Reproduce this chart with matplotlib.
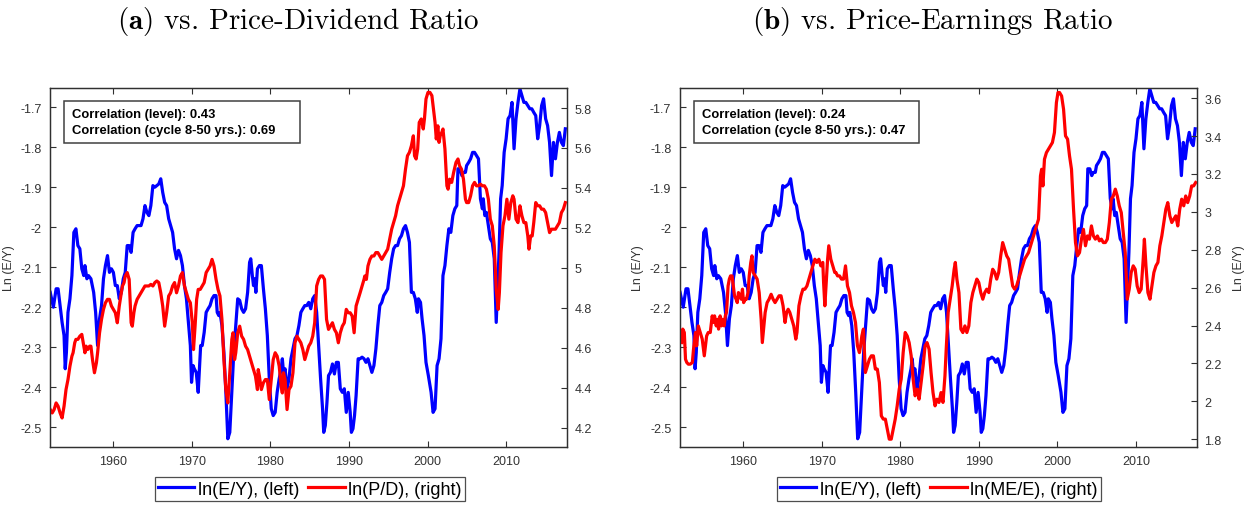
import matplotlib
matplotlib.use("Agg")
import matplotlib.pyplot as plt
from matplotlib.patches import Rectangle

plt.rcParams['font.family'] = ['Liberation Sans', 'DejaVu Sans']
plt.rcParams['mathtext.fontset'] = 'cm'

# ln(E/Y), same series in both panels
ey_years = [1951.96, 1952.36, 1952.71, 1952.96, 1953.22, 1953.47, 1953.72, 1953.87, 1954.02, 1954.22,
            1954.47, 1954.72, 1954.97, 1955.23, 1955.48, 1955.73, 1955.98, 1956.23, 1956.38, 1956.63,
            1956.83, 1957.14, 1957.49, 1957.74, 1957.99, 1958.24, 1958.49, 1958.74, 1958.99, 1959.25,
            1959.50, 1959.75, 1960.00, 1960.25, 1960.50, 1960.75, 1961.01, 1961.26, 1961.51, 1961.76,
            1962.01, 1962.26, 1962.51, 1962.76, 1963.02, 1963.27, 1963.52, 1963.77, 1964.02, 1964.27,
            1964.52, 1964.77, 1965.03, 1965.28, 1965.53, 1965.78, 1966.03, 1966.28, 1966.53, 1966.78,
            1967.04, 1967.29, 1967.54, 1967.79, 1968.04, 1968.29, 1968.54, 1968.79, 1969.05, 1969.30,
            1969.55, 1969.80, 1969.95, 1970.15, 1970.30, 1970.55, 1970.80, 1970.95, 1971.11, 1971.31,
            1971.56, 1971.81, 1972.06, 1972.31, 1972.56, 1972.81, 1973.07, 1973.22, 1973.42, 1973.57,
            1973.82, 1974.07, 1974.32, 1974.57, 1974.82, 1975.08, 1975.33, 1975.58, 1975.83, 1976.08,
            1976.33, 1976.58, 1976.83, 1977.09, 1977.34, 1977.49, 1977.69, 1977.84, 1977.99, 1978.14,
            1978.34, 1978.59, 1978.84, 1979.10, 1979.35, 1979.60, 1979.85, 1980.10, 1980.35, 1980.60,
            1980.85, 1981.11, 1981.36, 1981.51, 1981.66, 1981.86, 1982.11, 1982.36, 1982.61, 1982.86,
            1983.12, 1983.37, 1983.62, 1983.87, 1984.12, 1984.37, 1984.62, 1984.87, 1985.13, 1985.38,
            1985.63, 1985.88, 1986.13, 1986.38, 1986.63, 1986.78, 1986.98, 1987.19, 1987.39, 1987.64,
            1987.89, 1988.14, 1988.39, 1988.64, 1988.89, 1989.15, 1989.40, 1989.65, 1989.90, 1990.15,
            1990.30, 1990.50, 1990.70, 1990.90, 1991.16, 1991.41, 1991.66, 1991.91, 1992.16, 1992.41,
            1992.66, 1992.91, 1993.17, 1993.42, 1993.67, 1993.92, 1994.17, 1994.42, 1994.67, 1994.92,
            1995.18, 1995.43, 1995.68, 1995.93, 1996.18, 1996.43, 1996.68, 1996.93, 1997.19, 1997.44,
            1997.69, 1997.94, 1998.19, 1998.44, 1998.69, 1998.84, 1999.10, 1999.30, 1999.55, 1999.80,
            2000.10, 2000.45, 2000.70, 2000.95, 2001.21, 2001.46, 2001.71, 2001.96, 2002.21, 2002.46,
            2002.71, 2002.96, 2003.22, 2003.47, 2003.72, 2003.87, 2004.12, 2004.37, 2004.57, 2004.82,
            2004.97, 2005.23, 2005.48, 2005.73, 2005.98, 2006.23, 2006.48, 2006.73, 2006.98, 2007.09,
            2007.29, 2007.49, 2007.74, 2007.99, 2008.24, 2008.49, 2008.74, 2008.89, 2009.10, 2009.30,
            2009.50, 2009.75, 2010.00, 2010.25, 2010.50, 2010.75, 2011.01, 2011.26, 2011.51, 2011.76,
            2012.01, 2012.26, 2012.51, 2012.76, 2013.02, 2013.27, 2013.52, 2013.77, 2014.02, 2014.27,
            2014.52, 2014.77, 2015.03, 2015.28, 2015.53, 2015.78, 2016.03, 2016.28, 2016.53, 2016.78,
            2017.04, 2017.29, 2017.54]
ey_values = [-2.163, -2.200, -2.154, -2.154, -2.196, -2.238, -2.271, -2.354, -2.313, -2.213,
             -2.179, -2.121, -2.013, -2.004, -2.046, -2.054, -2.104, -2.121, -2.096, -2.129,
             -2.121, -2.129, -2.163, -2.213, -2.296, -2.229, -2.196, -2.129, -2.096, -2.071,
             -2.113, -2.104, -2.113, -2.146, -2.146, -2.179, -2.163, -2.129, -2.113, -2.046,
             -2.046, -2.063, -2.013, -2.004, -1.996, -1.996, -1.996, -1.979, -1.946, -1.963,
             -1.971, -1.946, -1.896, -1.900, -1.896, -1.892, -1.879, -1.913, -1.938, -1.946,
             -1.979, -1.996, -2.013, -2.054, -2.079, -2.058, -2.071, -2.096, -2.146, -2.179,
             -2.238, -2.296, -2.388, -2.346, -2.354, -2.363, -2.413, -2.354, -2.296, -2.296,
             -2.263, -2.213, -2.204, -2.196, -2.179, -2.171, -2.171, -2.213, -2.221, -2.213,
             -2.246, -2.313, -2.413, -2.529, -2.513, -2.413, -2.313, -2.246, -2.179, -2.183,
             -2.204, -2.213, -2.204, -2.163, -2.088, -2.079, -2.121, -2.146, -2.129, -2.163,
             -2.104, -2.096, -2.096, -2.154, -2.204, -2.271, -2.379, -2.454, -2.471, -2.463,
             -2.413, -2.379, -2.354, -2.329, -2.363, -2.354, -2.404, -2.379, -2.329, -2.304,
             -2.279, -2.271, -2.246, -2.213, -2.204, -2.196, -2.196, -2.188, -2.204, -2.179,
             -2.171, -2.213, -2.296, -2.379, -2.454, -2.513, -2.496, -2.438, -2.371, -2.363,
             -2.342, -2.367, -2.338, -2.338, -2.404, -2.413, -2.404, -2.463, -2.413, -2.463,
             -2.513, -2.504, -2.471, -2.421, -2.329, -2.329, -2.325, -2.329, -2.338, -2.329,
             -2.346, -2.363, -2.346, -2.304, -2.246, -2.196, -2.188, -2.171, -2.163, -2.154,
             -2.113, -2.079, -2.054, -2.046, -2.046, -2.029, -2.021, -2.004, -1.996, -2.013,
             -2.038, -2.163, -2.163, -2.179, -2.213, -2.179, -2.188, -2.229, -2.271, -2.338,
             -2.371, -2.413, -2.463, -2.454, -2.346, -2.329, -2.279, -2.121, -2.096, -2.046,
             -2.004, -2.013, -1.971, -1.954, -1.946, -1.854, -1.854, -1.871, -1.863, -1.863,
             -1.846, -1.838, -1.829, -1.813, -1.813, -1.821, -1.829, -1.929, -1.954, -1.929,
             -1.971, -1.963, -1.996, -2.029, -2.038, -2.079, -2.238, -2.163, -2.063, -1.929,
             -1.896, -1.813, -1.779, -1.729, -1.721, -1.688, -1.804, -1.729, -1.688, -1.654,
             -1.671, -1.688, -1.688, -1.696, -1.704, -1.704, -1.713, -1.721, -1.779, -1.746,
             -1.696, -1.679, -1.729, -1.746, -1.788, -1.871, -1.788, -1.829, -1.788, -1.763,
             -1.788, -1.796, -1.754]

# ln(P/D), panel (a)
pd_years = [1951.96, 1952.21, 1952.46, 1952.71, 1952.96, 1953.22, 1953.47, 1953.72, 1953.97, 1954.22,
            1954.47, 1954.72, 1954.87, 1955.08, 1955.23, 1955.48, 1955.73, 1955.98, 1956.23, 1956.38,
            1956.53, 1956.73, 1956.98, 1957.14, 1957.34, 1957.59, 1957.84, 1957.99, 1958.24, 1958.49,
            1958.74, 1958.99, 1959.25, 1959.50, 1959.75, 1960.00, 1960.25, 1960.50, 1960.75, 1961.01,
            1961.16, 1961.36, 1961.51, 1961.76, 1962.01, 1962.26, 1962.41, 1962.61, 1962.76, 1963.02,
            1963.27, 1963.52, 1963.77, 1964.02, 1964.27, 1964.52, 1964.77, 1965.03, 1965.28, 1965.53,
            1965.78, 1966.03, 1966.28, 1966.53, 1966.78, 1967.04, 1967.29, 1967.54, 1967.79, 1968.04,
            1968.29, 1968.54, 1968.79, 1969.05, 1969.30, 1969.55, 1969.80, 1970.05, 1970.20, 1970.40,
            1970.60, 1970.80, 1971.06, 1971.31, 1971.56, 1971.81, 1972.06, 1972.31, 1972.56, 1972.81,
            1973.07, 1973.32, 1973.57, 1973.82, 1974.07, 1974.32, 1974.57, 1974.82, 1975.08, 1975.23,
            1975.43, 1975.58, 1975.83, 1976.08, 1976.33, 1976.58, 1976.83, 1977.09, 1977.34, 1977.59,
            1977.84, 1978.09, 1978.34, 1978.44, 1978.59, 1978.84, 1979.10, 1979.35, 1979.60, 1979.85,
            1980.10, 1980.35, 1980.60, 1980.85, 1981.11, 1981.36, 1981.51, 1981.66, 1981.86, 1982.11,
            1982.36, 1982.61, 1982.86, 1983.12, 1983.37, 1983.62, 1983.87, 1984.12, 1984.37, 1984.62,
            1984.87, 1985.13, 1985.38, 1985.63, 1985.88, 1986.13, 1986.38, 1986.63, 1986.88, 1987.14,
            1987.39, 1987.64, 1987.89, 1988.14, 1988.39, 1988.64, 1988.89, 1989.15, 1989.40, 1989.65,
            1989.90, 1990.15, 1990.40, 1990.65, 1990.90, 1991.16, 1991.41, 1991.66, 1991.91, 1992.01,
            1992.21, 1992.41, 1992.66, 1992.91, 1993.17, 1993.42, 1993.67, 1993.92, 1994.17, 1994.42,
            1994.67, 1994.92, 1995.18, 1995.43, 1995.68, 1995.93, 1996.18, 1996.43, 1996.68, 1996.93,
            1997.19, 1997.44, 1997.69, 1997.94, 1998.19, 1998.34, 1998.54, 1998.74, 1998.94, 1999.20,
            1999.45, 1999.60, 1999.80, 2000.05, 2000.30, 2000.55, 2000.75, 2000.95, 2001.11, 2001.31,
            2001.46, 2001.61, 2001.81, 2001.96, 2002.21, 2002.46, 2002.61, 2002.81, 2003.07, 2003.32,
            2003.62, 2003.87, 2004.07, 2004.32, 2004.57, 2004.82, 2004.97, 2005.23, 2005.48, 2005.73,
            2005.98, 2006.23, 2006.48, 2006.73, 2006.98, 2007.24, 2007.49, 2007.74, 2007.99, 2008.24,
            2008.49, 2008.74, 2008.99, 2009.14, 2009.35, 2009.60, 2009.85, 2010.10, 2010.35, 2010.60,
            2010.85, 2011.01, 2011.26, 2011.51, 2011.76, 2012.01, 2012.26, 2012.51, 2012.76, 2012.91,
            2013.12, 2013.32, 2013.52, 2013.77, 2014.02, 2014.27, 2014.52, 2014.77, 2015.03, 2015.28,
            2015.53, 2015.78, 2016.03, 2016.28, 2016.53, 2016.78, 2017.04, 2017.29, 2017.54]
pd_values = [4.292, 4.275, 4.292, 4.325, 4.309, 4.275, 4.250, 4.309, 4.392, 4.442,
             4.509, 4.559, 4.576, 4.626, 4.643, 4.643, 4.659, 4.668, 4.609, 4.576,
             4.609, 4.592, 4.609, 4.609, 4.542, 4.476, 4.526, 4.576, 4.676, 4.743,
             4.793, 4.826, 4.843, 4.843, 4.810, 4.793, 4.776, 4.726, 4.810, 4.876,
             4.910, 4.927, 4.960, 4.977, 4.943, 4.726, 4.709, 4.776, 4.810, 4.843,
             4.860, 4.876, 4.893, 4.910, 4.910, 4.910, 4.918, 4.910, 4.927, 4.935,
             4.927, 4.876, 4.810, 4.709, 4.776, 4.860, 4.876, 4.910, 4.927, 4.876,
             4.910, 4.960, 4.977, 4.910, 4.876, 4.843, 4.826, 4.726, 4.592, 4.709,
             4.843, 4.893, 4.893, 4.910, 4.927, 4.977, 4.993, 5.010, 5.043, 5.010,
             4.943, 4.893, 4.860, 4.743, 4.542, 4.392, 4.325, 4.476, 4.643, 4.676,
             4.542, 4.576, 4.676, 4.709, 4.659, 4.643, 4.609, 4.592, 4.559, 4.526,
             4.492, 4.459, 4.392, 4.492, 4.459, 4.392, 4.426, 4.442, 4.442, 4.342,
             4.442, 4.542, 4.576, 4.559, 4.509, 4.409, 4.375, 4.476, 4.442, 4.292,
             4.392, 4.409, 4.476, 4.626, 4.659, 4.643, 4.626, 4.592, 4.542, 4.576,
             4.609, 4.626, 4.659, 4.726, 4.910, 4.943, 4.960, 4.960, 4.943, 4.743,
             4.693, 4.709, 4.726, 4.693, 4.676, 4.626, 4.676, 4.709, 4.726, 4.793,
             4.776, 4.776, 4.760, 4.676, 4.810, 4.843, 4.876, 4.910, 4.943, 4.960,
             4.943, 5.010, 5.043, 5.060, 5.060, 5.077, 5.077, 5.060, 5.043, 5.060,
             5.077, 5.094, 5.144, 5.194, 5.227, 5.261, 5.311, 5.344, 5.377, 5.411,
             5.494, 5.561, 5.578, 5.611, 5.661, 5.561, 5.545, 5.595, 5.728, 5.745,
             5.695, 5.745, 5.845, 5.878, 5.878, 5.862, 5.795, 5.728, 5.645, 5.711,
             5.628, 5.661, 5.678, 5.695, 5.595, 5.411, 5.394, 5.444, 5.428, 5.478,
             5.528, 5.545, 5.511, 5.494, 5.444, 5.344, 5.327, 5.327, 5.361, 5.411,
             5.428, 5.411, 5.411, 5.419, 5.411, 5.411, 5.394, 5.344, 5.244, 5.211,
             5.110, 4.893, 4.793, 4.876, 5.077, 5.211, 5.261, 5.344, 5.244, 5.327,
             5.361, 5.344, 5.244, 5.227, 5.311, 5.261, 5.227, 5.227, 5.160, 5.094,
             5.160, 5.160, 5.227, 5.327, 5.311, 5.311, 5.294, 5.294, 5.277, 5.227,
             5.177, 5.194, 5.194, 5.194, 5.211, 5.227, 5.277, 5.294, 5.327]

# ln(ME/E), panel (b)
pe_years = [1952.15, 1952.30, 1952.50, 1952.65, 1952.81, 1953.01, 1953.26, 1953.52, 1953.67, 1953.92,
            1954.07, 1954.28, 1954.53, 1954.78, 1955.04, 1955.19, 1955.34, 1955.54, 1955.80, 1956.05,
            1956.20, 1956.35, 1956.56, 1956.71, 1956.86, 1957.06, 1957.21, 1957.37, 1957.57, 1957.72,
            1957.87, 1958.07, 1958.23, 1958.38, 1958.58, 1958.73, 1958.89, 1959.09, 1959.24, 1959.39,
            1959.59, 1959.75, 1959.90, 1960.05, 1960.25, 1960.41, 1960.61, 1960.76, 1960.96, 1961.11,
            1961.27, 1961.52, 1961.77, 1962.03, 1962.28, 1962.43, 1962.63, 1962.79, 1963.04, 1963.29,
            1963.55, 1963.80, 1964.05, 1964.31, 1964.56, 1964.81, 1965.07, 1965.32, 1965.52, 1965.72,
            1965.93, 1966.18, 1966.43, 1966.69, 1966.84, 1967.09, 1967.35, 1967.60, 1967.85, 1968.11,
            1968.36, 1968.61, 1968.87, 1969.12, 1969.37, 1969.63, 1969.88, 1970.13, 1970.23, 1970.39,
            1970.54, 1970.74, 1970.89, 1971.15, 1971.40, 1971.65, 1971.80, 1972.01, 1972.26, 1972.51,
            1972.77, 1973.02, 1973.27, 1973.53, 1973.78, 1974.03, 1974.29, 1974.54, 1974.79, 1974.94,
            1975.10, 1975.30, 1975.55, 1975.81, 1976.06, 1976.31, 1976.57, 1976.82, 1977.07, 1977.33,
            1977.58, 1977.83, 1978.09, 1978.34, 1978.59, 1978.84, 1979.10, 1979.35, 1979.60, 1979.86,
            1980.11, 1980.36, 1980.62, 1980.87, 1981.12, 1981.38, 1981.63, 1981.88, 1982.14, 1982.39,
            1982.64, 1982.90, 1983.15, 1983.40, 1983.66, 1983.91, 1984.16, 1984.42, 1984.67, 1984.92,
            1985.18, 1985.43, 1985.68, 1985.84, 1986.09, 1986.34, 1986.60, 1986.85, 1987.00, 1987.20,
            1987.46, 1987.71, 1987.96, 1988.22, 1988.47, 1988.72, 1988.98, 1989.23, 1989.48, 1989.74,
            1989.99, 1990.24, 1990.50, 1990.75, 1991.00, 1991.26, 1991.51, 1991.76, 1992.02, 1992.27,
            1992.52, 1992.78, 1993.03, 1993.28, 1993.54, 1993.79, 1994.04, 1994.30, 1994.55, 1994.80,
            1995.06, 1995.31, 1995.56, 1995.82, 1996.07, 1996.32, 1996.58, 1996.83, 1997.08, 1997.34,
            1997.59, 1997.84, 1997.99, 1998.15, 1998.35, 1998.60, 1998.86, 1999.11, 1999.36, 1999.62,
            1999.87, 2000.07, 2000.27, 2000.53, 2000.78, 2001.03, 2001.29, 2001.54, 2001.79, 2002.05,
            2002.30, 2002.55, 2002.81, 2003.06, 2003.31, 2003.57, 2003.82, 2004.07, 2004.33, 2004.58,
            2004.83, 2005.09, 2005.34, 2005.59, 2005.85, 2006.10, 2006.35, 2006.61, 2006.86, 2007.11,
            2007.37, 2007.62, 2007.87, 2008.13, 2008.38, 2008.63, 2008.89, 2009.14, 2009.39, 2009.65,
            2009.90, 2010.15, 2010.41, 2010.66, 2010.92, 2011.07, 2011.27, 2011.52, 2011.78, 2012.03,
            2012.28, 2012.54, 2012.79, 2013.04, 2013.29, 2013.55, 2013.80, 2014.05, 2014.31, 2014.56,
            2014.81, 2015.07, 2015.32, 2015.57, 2015.82, 2016.08, 2016.33, 2016.58, 2016.84, 2017.09,
            2017.34, 2017.60]
pe_values = [2.310, 2.381, 2.363, 2.222, 2.205, 2.196, 2.196, 2.205, 2.275, 2.363,
             2.293, 2.398, 2.363, 2.328, 2.240, 2.293, 2.345, 2.363, 2.363, 2.451,
             2.416, 2.451, 2.398, 2.433, 2.381, 2.451, 2.398, 2.433, 2.398, 2.451,
             2.469, 2.609, 2.645, 2.662, 2.662, 2.609, 2.557, 2.539, 2.521, 2.574,
             2.557, 2.539, 2.592, 2.521, 2.539, 2.539, 2.574, 2.662, 2.733, 2.768,
             2.680, 2.662, 2.645, 2.574, 2.433, 2.310, 2.398, 2.469, 2.521, 2.539,
             2.565, 2.539, 2.521, 2.539, 2.557, 2.557, 2.504, 2.416, 2.469, 2.486,
             2.469, 2.433, 2.398, 2.328, 2.363, 2.504, 2.557, 2.592, 2.592, 2.609,
             2.645, 2.680, 2.715, 2.750, 2.733, 2.750, 2.715, 2.733, 2.627, 2.504,
             2.609, 2.750, 2.821, 2.750, 2.715, 2.680, 2.680, 2.662, 2.662, 2.645,
             2.645, 2.715, 2.609, 2.574, 2.504, 2.469, 2.416, 2.293, 2.257, 2.293,
             2.345, 2.381, 2.152, 2.187, 2.222, 2.240, 2.240, 2.170, 2.170, 2.099,
             1.923, 1.906, 1.906, 1.853, 1.800, 1.800, 1.853, 1.906, 1.976, 2.064,
             2.117, 2.257, 2.363, 2.345, 2.310, 2.240, 2.117, 2.029, 2.064, 2.011,
             2.099, 2.187, 2.293, 2.310, 2.275, 2.152, 2.046, 1.976, 2.011, 1.994,
             2.046, 1.994, 2.134, 2.275, 2.469, 2.539, 2.609, 2.697, 2.733, 2.645,
             2.574, 2.381, 2.363, 2.398, 2.363, 2.398, 2.521, 2.574, 2.609, 2.645,
             2.627, 2.574, 2.539, 2.574, 2.592, 2.574, 2.645, 2.697, 2.680, 2.645,
             2.680, 2.768, 2.838, 2.803, 2.768, 2.750, 2.680, 2.609, 2.592, 2.609,
             2.645, 2.680, 2.715, 2.750, 2.768, 2.785, 2.821, 2.856, 2.891, 2.926,
             2.961, 3.190, 3.225, 3.137, 3.278, 3.313, 3.331, 3.348, 3.366, 3.419,
             3.577, 3.630, 3.630, 3.612, 3.542, 3.401, 3.384, 3.296, 3.225, 3.014,
             2.838, 2.768, 2.785, 2.856, 2.908, 2.821, 2.873, 2.856, 2.926, 2.873,
             2.856, 2.873, 2.847, 2.856, 2.838, 2.838, 2.856, 2.944, 3.067, 3.084,
             3.120, 3.084, 3.032, 2.996, 2.891, 2.785, 2.539, 2.592, 2.680, 2.715,
             2.697, 2.609, 2.574, 2.592, 2.750, 2.856, 2.715, 2.574, 2.539, 2.609,
             2.680, 2.715, 2.733, 2.821, 2.873, 2.944, 3.014, 3.049, 2.979, 2.944,
             2.961, 2.979, 2.926, 3.014, 3.067, 3.032, 3.084, 3.049, 3.084, 3.137,
             3.137, 3.155]

year_ticks = [1960, 1970, 1980, 1990, 2000, 2010]
left_ticks = [-2.5, -2.4, -2.3, -2.2, -2.1, -2.0, -1.9, -1.8, -1.7]
left_labels = ['-2.5', '-2.4', '-2.3', '-2.2', '-2.1', '-2', '-1.9', '-1.8', '-1.7']
pd_ticks = [4.2, 4.4, 4.6, 4.8, 5.0, 5.2, 5.4, 5.6, 5.8]
pd_labels = ['4.2', '4.4', '4.6', '4.8', '5', '5.2', '5.4', '5.6', '5.8']
pe_ticks = [1.8, 2.0, 2.2, 2.4, 2.6, 2.8, 3.0, 3.2, 3.4, 3.6]
pe_labels = ['1.8', '2', '2.2', '2.4', '2.6', '2.8', '3', '3.2', '3.4', '3.6']

titles = [r'$\mathbf{(a)}$ vs. Price-Dividend Ratio', r'$\mathbf{(b)}$ vs. Price-Earnings Ratio']
corr_text = ['Correlation (level): 0.43\nCorrelation (cycle 8-50 yrs.): 0.69',
             'Correlation (level): 0.24\nCorrelation (cycle 8-50 yrs.): 0.47']
legend_right = ['ln(P/D), (right)', 'ln(ME/E), (right)']

grey = '#303030'
fig = plt.figure(figsize=(12.47, 5.06), dpi=100)
lefts = [0.0399, 0.5450]
title_x = [0.239, 0.748]
legend_x = [0.2486, 0.7530]
right_data = [(pd_years, pd_values, pd_ticks, pd_labels, (4.107, 5.90)),
              (pe_years, pe_values, pe_ticks, pe_labels, (1.761, 3.654))]
box_w = [0.456, 0.4346]

for i in range(2):
    ax = fig.add_axes([lefts[i], 0.1155, 0.4151, 0.7086])
    ax2 = ax.twinx()
    l1, = ax.plot(ey_years, ey_values, color='#0000ff', lw=2.3, label='ln(E/Y), (left)')
    ry, rv, rt, rl, rlim = right_data[i]
    l2, = ax2.plot(ry, rv, color='#ff0000', lw=2.3, label=legend_right[i])
    ax.set_xlim(1951.9, 2017.8)
    ax.set_ylim(-2.5485, -1.652)
    ax2.set_ylim(*rlim)
    ax.set_xticks(year_ticks)
    ax.set_xticklabels([str(y) for y in year_ticks])
    ax.set_yticks(left_ticks)
    ax.set_yticklabels(left_labels)
    ax2.set_yticks(rt)
    ax2.set_yticklabels(rl)
    for a in (ax, ax2):
        for s in a.spines.values():
            s.set_color(grey)
            s.set_linewidth(0.9)
        a.tick_params(direction='in', length=4, width=0.8, color=grey,
                      labelsize=9, labelcolor='#333333')
    ax.tick_params(top=True, pad=6)
    ax2.tick_params(axis='y', pad=5)
    ax.set_ylabel('Ln (E/Y)', fontsize=9, color='#333333')
    ax.yaxis.set_label_coords(-0.068, 0.5)
    if i == 1:
        ax2.set_ylabel('Ln (E/Y)', fontsize=9, color='#333333', rotation=90)
        ax2.yaxis.set_label_coords(1.069, 0.5)

    ax2.add_patch(Rectangle((0.0276, 0.8467), box_w[i], 0.1171, transform=ax2.transAxes,
                            facecolor='white', edgecolor='#404040', lw=1.1, zorder=5))
    ax2.text(0.0276 + 0.016, 0.905, corr_text[i], transform=ax2.transAxes, fontsize=9.4,
             fontweight='bold', va='center', ha='left', linespacing=1.45, zorder=6)

    fig.text(title_x[i], 0.958, titles[i], ha='center', va='center', fontsize=21,
             family='cmr10')
    leg = fig.legend(handles=[l1, l2], loc='upper center', bbox_to_anchor=(legend_x[i], 0.0553),
                     ncol=2, fontsize=13, frameon=True, fancybox=False, handlelength=2.0,
                     handletextpad=0.2, columnspacing=0.5, borderpad=0.2, borderaxespad=0)
    leg.get_frame().set_edgecolor('#222222')
    leg.get_frame().set_linewidth(0.9)

fig.savefig('out.png', dpi=100)
